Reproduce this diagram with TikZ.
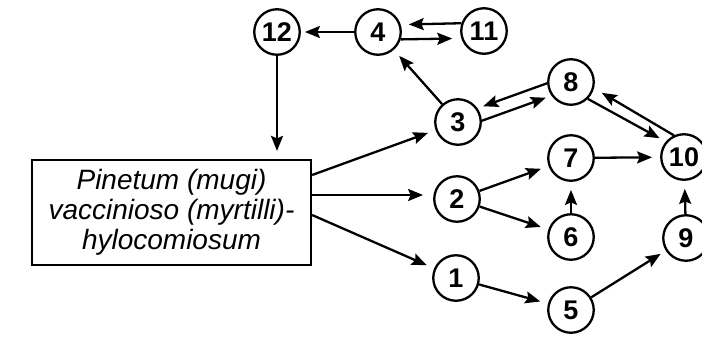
\documentclass[tikz,border=0pt]{standalone}
\usepackage{fontspec}
\setmainfont{Liberation Sans}
\usetikzlibrary{arrows.meta}
\begin{document}
\begin{tikzpicture}[x=1pt,y=-1pt,
  num/.style={circle,draw,line width=2.3pt,minimum size=45.5pt,inner sep=0pt,
    font=\fontsize{27}{27}\selectfont\bfseries},
  arr/.style={line width=2.3pt,-{Stealth[length=15pt,width=12pt,inset=2.5pt]},shorten >=9pt},
  boxstyle/.style={draw,line width=2.2pt,minimum width=279pt,minimum height=105pt,inner sep=0pt,
    align=center,font=\fontsize{28}{30}\selectfont\itshape}
  ]
\useasboundingbox (0,0) rectangle (702,338);
\node[num] (n12) at (277,32) {12};
\node[num] (n4)  at (378,32) {4};
\node[num] (n11) at (484,31) {11};
\node[num] (n3)  at (458,122) {3};
\node[num] (n8)  at (571,82) {8};
\node[num] (n7)  at (571,158) {7};
\node[num] (n10) at (684,157) {10};
\node[num] (n2)  at (457,199) {2};
\node[num] (n6)  at (571,237) {6};
\node[num] (n9)  at (686,238) {9};
\node[num] (n1)  at (456,278) {1};
\node[num] (n5)  at (571,310) {5};
\node[boxstyle] (box) at (171.5,212.5) {Pinetum (mugi)\\vaccinioso (myrtilli)-\\hylocomiosum};

\coordinate (b3) at ([yshift=37.5pt]box.east);
\coordinate (b2) at ([yshift=17.5pt]box.east);
\coordinate (b1) at ([yshift=-2.5pt]box.east);

\draw[arr,shorten >=4pt] (n4) -- (n12);
\draw[arr,shorten >=8pt] (n11.161.5) -- (n4.18.5);
\draw[arr] (n4.-18.5) -- (n11.198.5);
\draw[arr,shorten >=8pt] (n3) -- (n4);
\draw[arr,shorten >=8pt] (n12) -- (n12 |- box.north);
\draw[arr,shorten >=8pt] (b3) -- (n3);
\draw[arr,shorten >=10pt] (b2) -- (b2 -| n2.west);
\draw[arr,shorten >=8pt] (b1) -- (n1);
\draw[arr,shorten >=6pt] (n3.3.5) -- (n8.215);
\draw[arr,shorten >=6pt] (n8.183.5) -- (n3.35);
\draw[arr,shorten >=7pt] (n8.-45) -- (n10.140);
\draw[arr,shorten >=9pt] (n10.115) -- (n8.-15);
\draw[arr,shorten >=8pt] (n7) -- (n10);
\draw[arr,shorten >=8pt] (n2) -- (n7);
\draw[arr,shorten >=8pt] (n2) -- (n6);
\draw[arr,shorten >=8pt] (n6) -- (n7);
\draw[arr,shorten >=8pt] (n9) -- (n10);
\draw[arr,shorten >=8pt] (n1) -- (n5);
\draw[arr,shorten >=6pt] (n5) -- (n9);
\end{tikzpicture}
\end{document}
